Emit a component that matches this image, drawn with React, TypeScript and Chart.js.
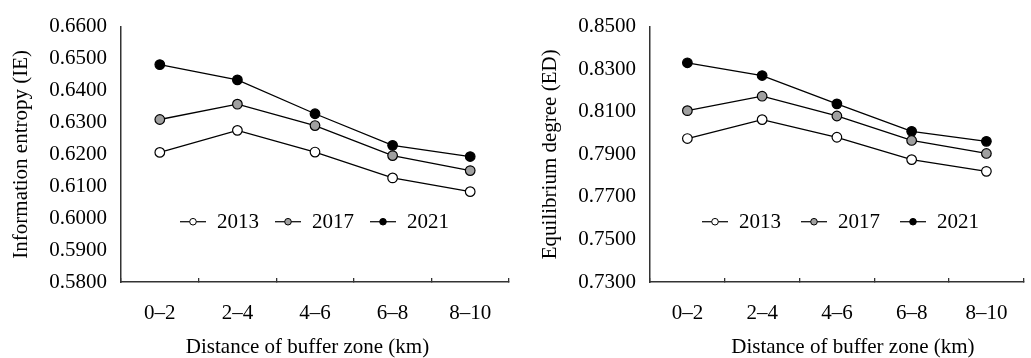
import React, { useEffect, useRef } from "react";
import { Chart, registerables } from "chart.js";

Chart.register(...registerables);

const categories = ["0–2", "2–4", "4–6", "6–8", "8–10"];
const years = ["2013", "2017", "2021"];
const pointFills = ["#ffffff", "#a0a0a0", "#000000"];

const ie2013 = [0.6206, 0.6275, 0.6207, 0.6126, 0.6083];
const ie2017 = [0.6309, 0.6357, 0.629, 0.6196, 0.6149];
const ie2021 = [0.6481, 0.6433, 0.6327, 0.6228, 0.6193];

const ed2013 = [0.7974, 0.8063, 0.798, 0.7875, 0.782];
const ed2017 = [0.8105, 0.8173, 0.808, 0.7965, 0.7904];
const ed2021 = [0.833, 0.827, 0.8137, 0.8008, 0.7961];

// [min, max, step]
const ieAxis = [0.58, 0.66, 0.01];
const edAxis = [0.73, 0.85, 0.02];

const ieTitle = "Information entropy (IE)";
const edTitle = "Equilibrium degree (ED)";
const xTitle = "Distance of buffer zone (km)";

const FONT = "'Liberation Serif', 'Times New Roman', Times, serif";

const inlineLegend = {
  id: "inlineLegend",
  afterDatasetsDraw(chart: any, _args: any, opts: any) {
    const { ctx, chartArea } = chart;
    let x = chartArea.left + opts.x;
    const y = chartArea.top + opts.yFrac * (chartArea.bottom - chartArea.top);
    ctx.save();
    ctx.font = `21px ${FONT}`;
    ctx.textBaseline = "middle";
    ctx.textAlign = "left";
    chart.data.datasets.forEach((ds: any) => {
      ctx.strokeStyle = "#000";
      ctx.lineWidth = 1.2;
      ctx.beginPath();
      ctx.moveTo(x, y);
      ctx.lineTo(x + opts.symbol, y);
      ctx.stroke();
      ctx.beginPath();
      ctx.arc(x + opts.symbol / 2, y, 3.3, 0, Math.PI * 2);
      ctx.fillStyle = ds.pointBackgroundColor;
      ctx.fill();
      ctx.lineWidth = 1;
      ctx.stroke();
      x += opts.symbol + opts.textGap;
      ctx.fillStyle = "#000";
      ctx.fillText(ds.label, x, y + 1);
      x += ctx.measureText(ds.label).width + opts.itemGap;
    });
    ctx.restore();
  },
};

// Draws the x-axis title below the tick labels, shifted horizontally as in the reference.
const xAxisTitle = {
  id: "xAxisTitle",
  afterDraw(chart: any, _args: any, opts: any) {
    const { ctx, chartArea } = chart;
    ctx.save();
    ctx.font = `21px ${FONT}`;
    ctx.fillStyle = "#000";
    ctx.textAlign = "center";
    ctx.textBaseline = "middle";
    ctx.fillText(opts.text, (chartArea.left + chartArea.right) / 2 + opts.dx, opts.y);
    ctx.restore();
  },
};

function makeConfig(
  series: number[][],
  axis: number[],
  yTitle: string,
  yWidth: number,
  yTitlePad: number,
  padRight: number,
  legendX: number,
  itemGap: number,
  titleDx: number
): any {
  return {
    type: "line",
    data: {
      labels: categories,
      datasets: series.map((vals, i) => ({
        label: years[i],
        data: vals,
        borderColor: "#000",
        borderWidth: 1.3,
        pointRadius: 4.8,
        pointBorderWidth: 1.2,
        pointBorderColor: "#000",
        pointBackgroundColor: pointFills[i],
        tension: 0,
        fill: false,
      })),
    },
    options: {
      animation: false,
      responsive: false,
      maintainAspectRatio: false,
      layout: { padding: { left: 0, right: padRight, top: 22, bottom: 0 } },
      plugins: {
        legend: { display: false },
        tooltip: { enabled: false },
        inlineLegend: { x: legendX, yFrac: 0.764, symbol: 26, textGap: 11, itemGap: itemGap },
        xAxisTitle: { text: xTitle, dx: titleDx, y: 347 },
      },
      scales: {
        x: {
          type: "category",
          offset: true,
          grid: {
            display: true,
            offset: true,
            drawOnChartArea: false,
            drawTicks: true,
            tickLength: -4,
            color: "#333",
            lineWidth: 1.3,
          },
          border: { display: true, color: "#333", width: 1.5 },
          ticks: {
            color: "#000",
            padding: 23,
            font: { family: FONT, size: 21 },
            maxRotation: 0,
          },
          title: { display: false },
          afterFit: (scale: any) => {
            scale.height = 76;
          },
        },
        y: {
          min: axis[0],
          max: axis[1],
          grid: { display: false, drawTicks: false },
          border: { display: true, color: "#333", width: 1.5 },
          ticks: {
            stepSize: axis[2],
            color: "#000",
            padding: 14,
            font: { family: FONT, size: 21 },
            callback: (v: any) => Number(v).toFixed(4),
          },
          title: {
            display: true,
            text: yTitle,
            color: "#000",
            font: { family: FONT, size: 21 },
            padding: { top: yTitlePad, bottom: 0 },
          },
          afterFit: (scale: any) => {
            scale.width = yWidth;
          },
        },
      },
    },
    plugins: [inlineLegend, xAxisTitle],
  };
}

function Panel(props: { left: number; width: number; config: any }) {
  const ref = useRef<HTMLCanvasElement | null>(null);
  useEffect(() => {
    if (!ref.current) return;
    const chart = new Chart(ref.current, props.config);
    return () => chart.destroy();
  }, []);
  return (
    <canvas
      ref={ref}
      width={props.width}
      height={358}
      style={{ position: "absolute", left: props.left, top: 0, width: props.width, height: 358 }}
    />
  );
}

export default function App() {
  const leftCfg = makeConfig([ie2013, ie2017, ie2021], ieAxis, ieTitle, 121, 9, 6, 59, 16, -7.5);
  const rightCfg = makeConfig([ed2013, ed2017, ed2021], edAxis, edTitle, 135, 23, 1, 52, 20, 16);
  return (
    <div style={{ position: "absolute", left: 0, top: 0, width: 1031, height: 358, background: "#fff" }}>
      <Panel left={0} width={515} config={leftCfg} />
      <Panel left={515} width={516} config={rightCfg} />
    </div>
  );
}
